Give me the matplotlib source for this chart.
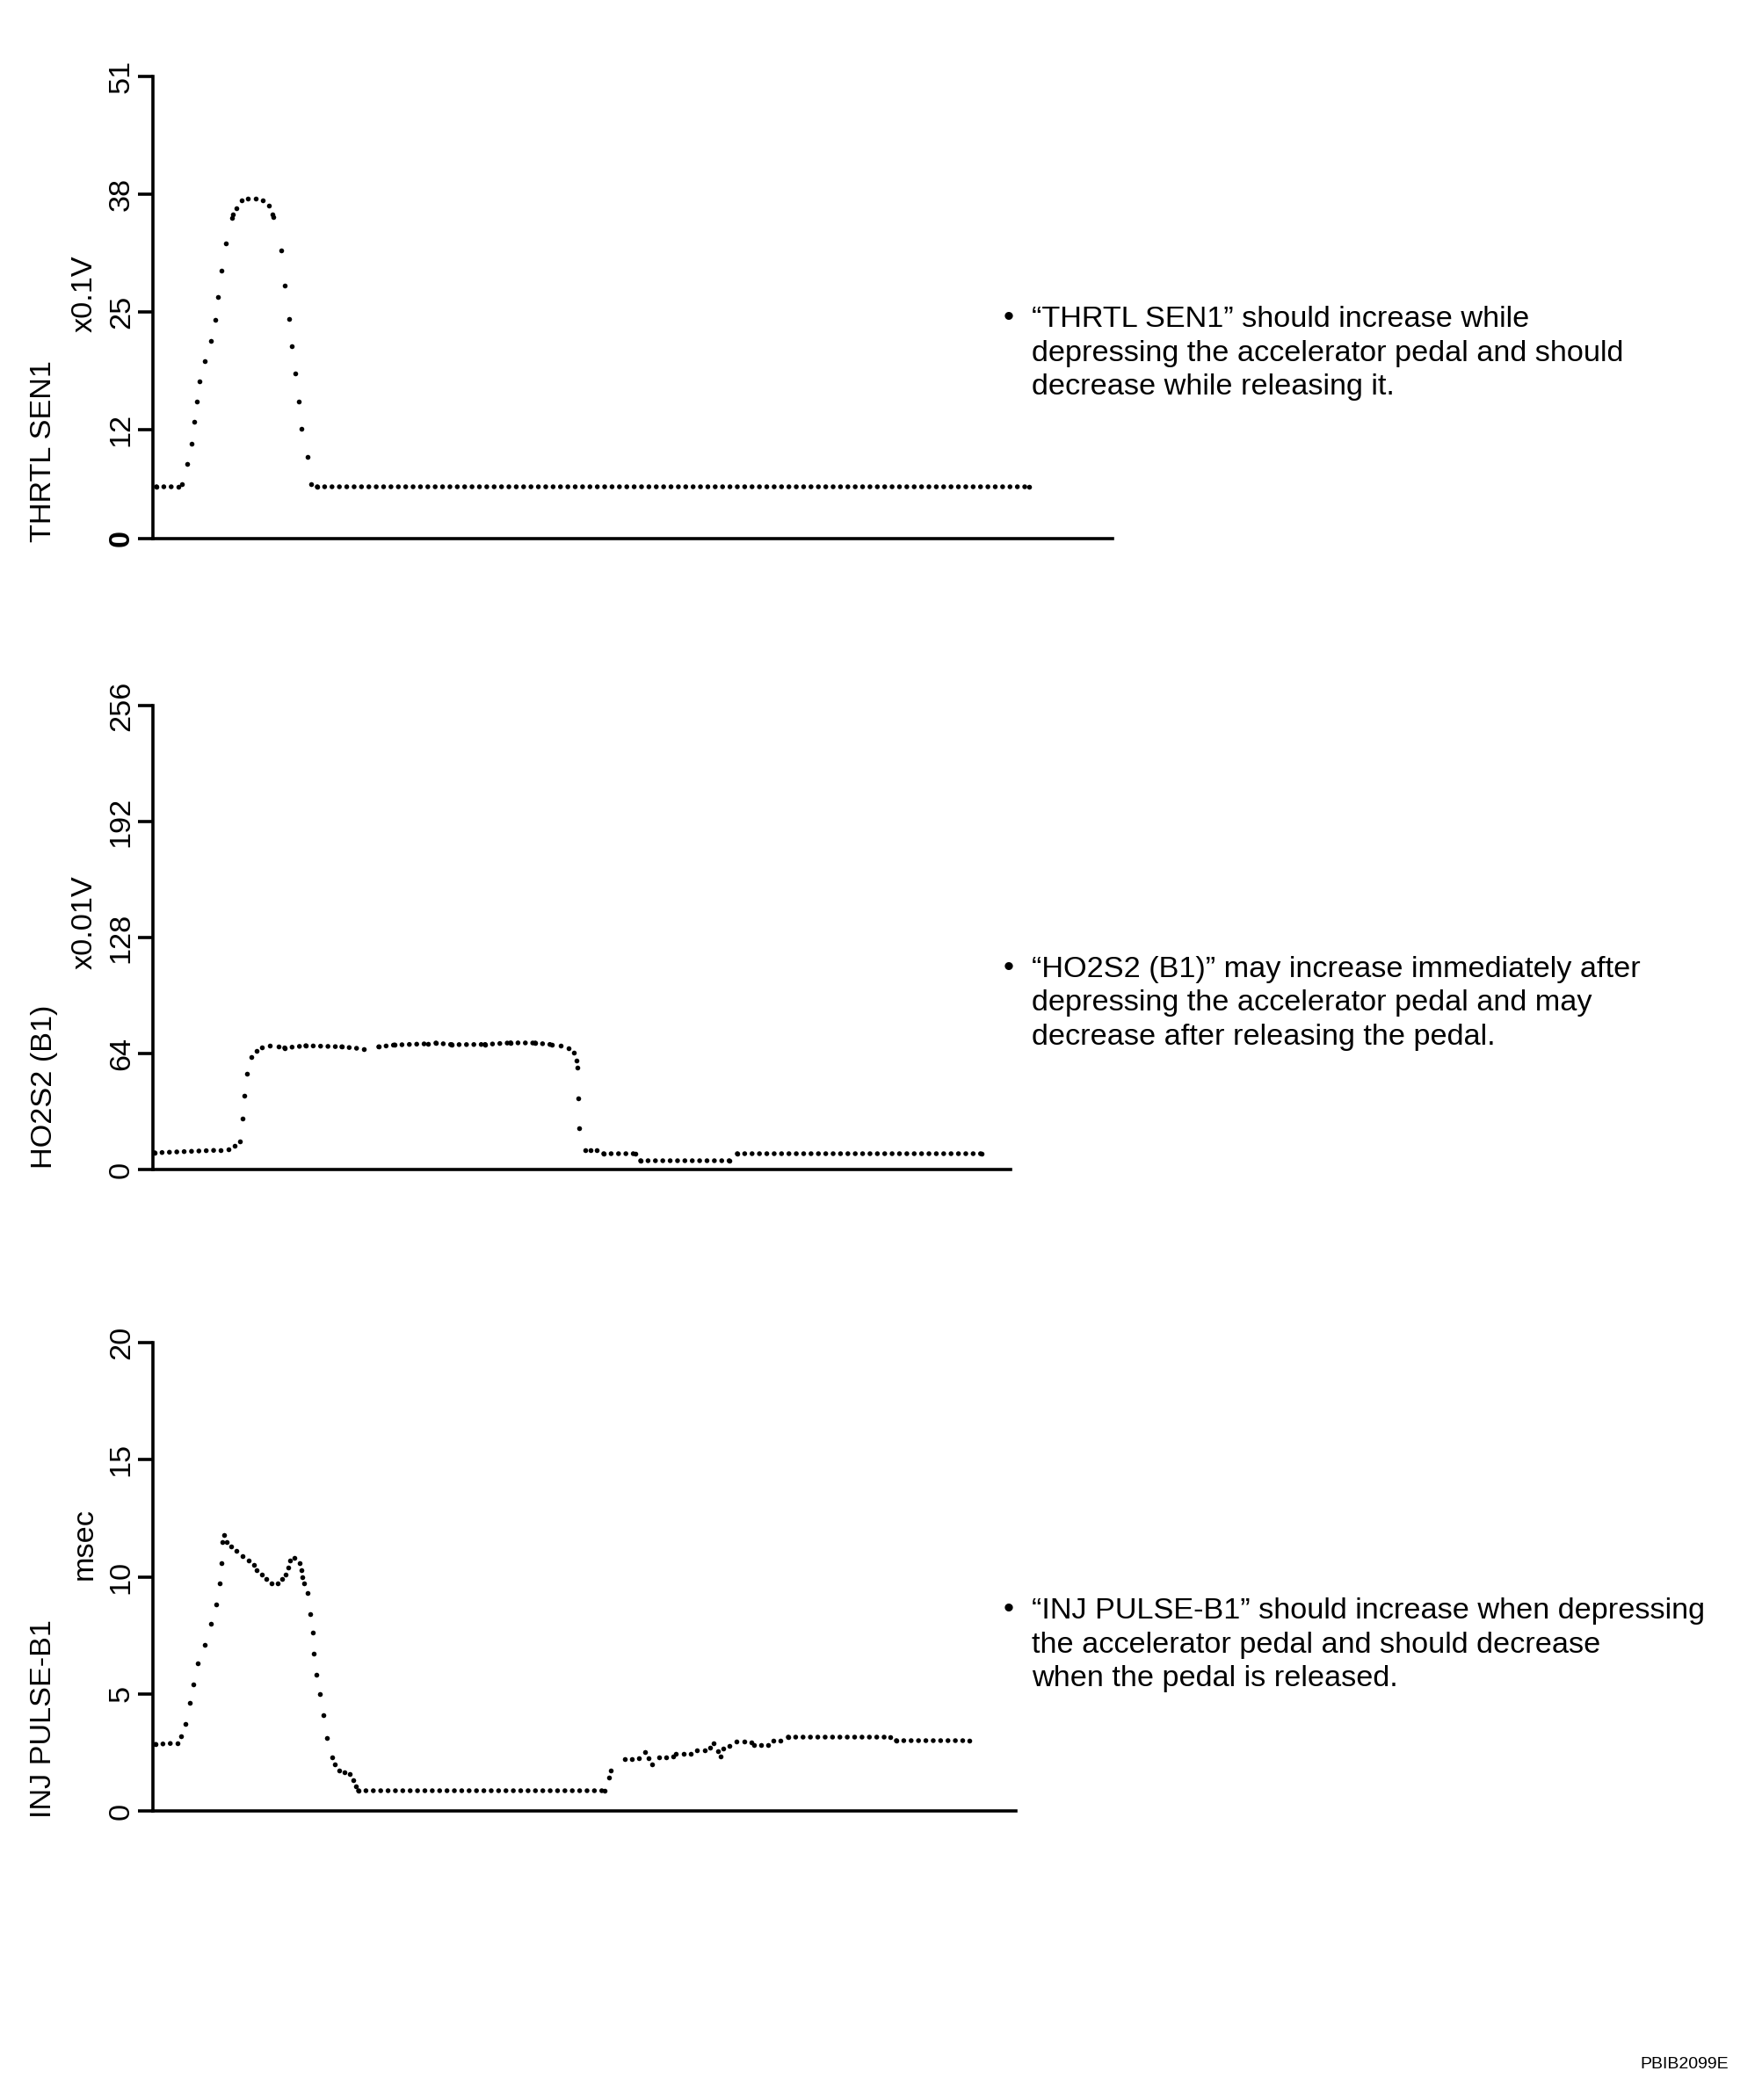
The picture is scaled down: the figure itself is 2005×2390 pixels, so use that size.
import matplotlib
matplotlib.use("Agg")
import matplotlib.pyplot as plt

plt.rcParams['font.family'] = ['Liberation Sans', 'DejaVu Sans']

W, H = 2005, 2390

# ---- data (time in arbitrary units, value in the axis units) ----
thrtl_t = [0.4, 2.9, 3.3, 3.9, 4.4, 4.7, 5.0, 5.3, 5.9, 6.6, 7.1, 7.4, 7.8, 8.3,
           9.0, 9.1, 9.5, 10.1, 10.8, 11.7, 12.5, 13.2, 13.6, 13.7, 14.6, 15.0,
           15.5, 15.8, 16.2, 16.6, 16.9, 17.6, 18.0, 18.7, 99.7]
thrtl_v = [5.7, 5.7, 6.0, 8.2, 10.5, 12.9, 15.1, 17.4, 19.6, 21.8, 24.1, 26.7, 29.6, 32.6,
           35.4, 35.8, 36.5, 37.3, 37.5, 37.5, 37.3, 36.7, 35.8, 35.5, 31.8, 27.9,
           24.2, 21.2, 18.2, 15.1, 12.1, 9.0, 6.0, 5.7, 5.7]
thrtl_ticks = [0, 12, 25, 38, 51]

ho2s2_t = [0.2, 7.7, 8.6, 9.3, 9.85, 10.2, 10.35, 10.7, 11.2, 11.8, 12.4, 13.3,
           14.25, 15.0, 17.4, 21.5, 24.0, 25.7, 27.5, 31.3, 32.2, 34.0, 37.8,
           40.7, 43.5, 45.4, 46.4, 47.3, 47.85, 48.2, 48.25, 48.4, 48.45,
           49.2, 49.8, 50.45, 51.3, 54.9, 55.5, 65.6, 66.5, 94.3]
ho2s2_v = [9.2, 10.7, 11.2, 13.3, 15.6, 27.9, 40.5, 52.9, 62.1, 65.5, 67.4, 68.2,
           68.0, 67.1, 68.3, 67.7, 66.5, 67.7, 68.7, 69.4, 69.8, 68.9, 69.0,
           69.9, 69.8, 68.9, 68.5, 66.8, 64.4, 60.3, 56.3, 39.5, 22.7,
           10.6, 10.6, 10.6, 8.6, 8.6, 5.0, 5.0, 8.6, 8.6]
ho2s2_ticks = [0, 64, 128, 192, 256]

inj_t = [0.3, 2.8, 3.2, 3.7, 4.2, 4.6, 5.1, 5.9, 6.6, 7.2, 7.6, 7.8, 7.9, 8.1,
         8.4, 8.9, 9.5, 10.2, 10.9, 11.5, 11.8, 12.4, 12.9, 13.5, 14.2, 14.7,
         15.1, 15.4, 15.6, 16.1, 16.7, 16.9, 17.0, 17.2, 17.6, 17.9, 18.2, 18.3,
         18.6, 19.0, 19.4, 19.8, 20.4, 20.7, 21.2, 21.8, 22.4, 22.8, 23.1, 23.4,
         51.4, 51.9, 52.1, 53.7, 54.5, 55.3, 56.0, 56.4, 56.8, 57.6, 58.4, 59.2,
         59.5, 60.4, 61.2, 61.9, 62.8, 63.4, 63.8, 64.3, 64.6, 64.9, 65.6, 66.4,
         67.3, 68.1, 68.4, 69.2, 70.0, 70.6, 71.4, 72.3, 83.9, 84.6, 92.9]
inj_v = [2.84, 2.9, 3.2, 3.7, 4.6, 5.4, 6.3, 7.1, 8.0, 8.8, 9.7, 10.6, 11.5, 11.8,
         11.5, 11.3, 11.1, 10.9, 10.7, 10.5, 10.3, 10.1, 9.9, 9.7, 9.7, 9.9,
         10.1, 10.4, 10.7, 10.8, 10.6, 10.3, 10.0, 9.7, 9.3, 8.4, 7.6, 6.7,
         5.8, 5.0, 4.1, 3.1, 2.3, 2.0, 1.74, 1.66, 1.56, 1.32, 1.04, 0.86,
         0.86, 1.44, 1.71, 2.21, 2.21, 2.27, 2.5, 2.26, 1.99, 2.29, 2.29, 2.32,
         2.45, 2.45, 2.45, 2.6, 2.6, 2.7, 2.88, 2.57, 2.32, 2.66, 2.78, 2.96,
         2.96, 2.93, 2.81, 2.81, 2.81, 3.0, 3.0, 3.17, 3.17, 3.0, 3.0]
inj_ticks = [0, 5, 10, 15, 20]

panel_names = ['THRTL SEN1', 'HO2S2 (B1)', 'INJ PULSE-B1']
panel_units = ['x0.1V', 'x0.01V', 'msec']
panel_notes = [
    "\u201cTHRTL SEN1\u201d should increase while\n"
    "depressing the accelerator pedal and should\n"
    "decrease while releasing it.",
    "\u201cHO2S2 (B1)\u201d may increase immediately after\n"
    "depressing the accelerator pedal and may\n"
    "decrease after releasing the pedal.",
    "\u201cINJ PULSE-B1\u201d should increase when depressing\n"
    "the accelerator pedal and should decrease\n"
    "when the pedal is released.",
]

# ---- layout (pixels of the 2005x2390 canvas) ----
boxes = [(174, 87, 1266, 613), (174, 803, 1150, 1331), (174, 1528, 1156, 2061)]
unit_y = [334, 1050, 1757]
note_y = [402, 1142, 1872]
name_bottom = [617, 1330, 2069]

DOT = 4.0               # dot diameter in points
GAP = 8.33 / (DOT * 100 / 72)   # dot pitch along flat runs, in linewidths
FS = 24.7


def fx(x):
    return x / W


def fy(y):
    return 1 - y / H


def draw_trace(ax, t, v):
    ax.plot(t, v, linestyle='none', marker='o', ms=DOT, mfc='black',
            mec='black', mew=0, clip_on=False)
    for i in range(len(t) - 1):
        if t[i + 1] - t[i] > 1.7:
            ax.plot(t[i:i + 2], v[i:i + 2], color='black', lw=DOT,
                    linestyle=(0, (0.01, GAP)), dash_capstyle='round',
                    clip_on=False)


fig = plt.figure(figsize=(W / 100, H / 100), dpi=100)

series = [(thrtl_t, thrtl_v, thrtl_ticks),
          (ho2s2_t, ho2s2_v, ho2s2_ticks),
          (inj_t, inj_v, inj_ticks)]

for k, (t, v, ticks) in enumerate(series):
    l, top, r, b = boxes[k]
    ax = fig.add_axes([fx(l), fy(b), (r - l) / W, (b - top) / H])
    draw_trace(ax, t, v)
    ax.set_xlim(0, (r - l) / 10)
    ax.set_ylim(ticks[0], ticks[-1])
    ax.set_xticks([])
    ax.set_yticks(ticks)
    ax.set_yticklabels([str(x) for x in ticks], rotation=90, va='center')
    ax.tick_params(axis='y', direction='out', length=12.5, width=2.6,
                   labelsize=FS, pad=2)
    for s in ['top', 'right']:
        ax.spines[s].set_visible(False)
    for s in ['left', 'bottom']:
        ax.spines[s].set_linewidth(2.6)
    if k == 0:
        ax.get_yticklabels()[0].set_fontweight('bold')

    fig.text(fx(50), fy(name_bottom[k]), panel_names[k], rotation=90,
             ha='center', va='bottom', fontsize=FS)
    fig.text(fx(96), fy(unit_y[k]), panel_units[k], rotation=90,
             ha='center', va='center', fontsize=FS)
    fig.text(fx(1174), fy(note_y[k]), panel_notes[k], ha='left', va='center',
             fontsize=FS, linespacing=1.32)
    fig.text(fx(1148), fy(note_y[k] - 39.5), '\u2022', ha='center',
             va='center', fontsize=FS)

fig.text(fx(1967), fy(2350), 'PBIB2099E', ha='right', va='center', fontsize=14)

fig.savefig('out.png', dpi=100, facecolor='white')
